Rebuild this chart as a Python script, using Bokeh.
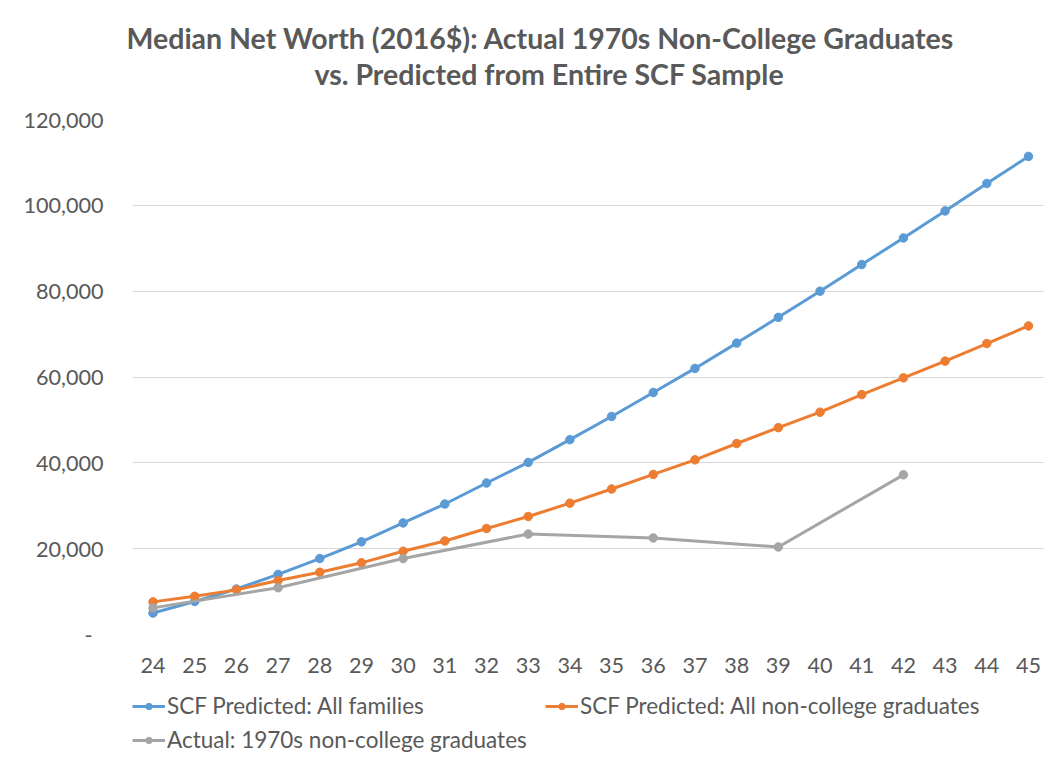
from bokeh.plotting import figure
from bokeh.layouts import column
from bokeh.models import (FixedTicker, NumeralTickFormatter, Title, Legend, LegendItem,
                          ColumnDataSource)
from bokeh.embed import file_html
from bokeh.resources import INLINE

# ---- data ----
ages = [24, 25, 26, 27, 28, 29, 30, 31, 32, 33, 34, 35, 36, 37, 38, 39, 40, 41, 42, 43, 44, 45]
all_families = [5000, 7700, 10600, 14000, 17700, 21600, 26000, 30400, 35300, 40100, 45400,
                50800, 56400, 62000, 67900, 73900, 80000, 86200, 92400, 98700, 105100, 111400]
all_noncollege = [7600, 8900, 10400, 12600, 14500, 16700, 19400, 21800, 24700, 27500, 30600,
                  33900, 37300, 40700, 44500, 48200, 51800, 55900, 59800, 63700, 67800, 71900]
actual_ages = [24, 27, 30, 33, 36, 39, 42]
actual_1970s = [6200, 10900, 17700, 23400, 22500, 20400, 37200]
y_ticks = [0, 20000, 40000, 60000, 80000, 100000, 120000]

title_1 = "Median Net Worth (2016$): Actual 1970s Non-College Graduates"
title_2 = "vs. Predicted from Entire SCF Sample"
names = ["SCF Predicted: All families", "SCF Predicted: All non-college graduates",
         "Actual: 1970s non-college graduates"]
colors = ["#5B9BD5", "#ED7D31", "#A5A5A5"]

FONT = "Lato"
TXT = "#595959"

p = figure(width=1044, height=678, output_backend="svg", toolbar_location=None, title=None,
           x_range=(23.508, 45.384), y_range=(0, 120000),
           min_border_left=132, min_border_right=0, min_border_top=119, min_border_bottom=44)
p.outline_line_color = None
p.background_fill_color = "white"
p.border_fill_color = "white"

p.xgrid.grid_line_color = None
p.ygrid.grid_line_color = "#D9D9D9"
p.ygrid.grid_line_width = 1
p.ygrid.ticker = FixedTicker(ticks=y_ticks)

# axes
p.yaxis.ticker = FixedTicker(ticks=y_ticks)
p.yaxis.formatter = NumeralTickFormatter(format="0,0")
p.yaxis.major_label_overrides = {0: "-\u00a0\u00a0"}
p.yaxis.axis_line_color = None
p.yaxis.major_tick_line_color = None
p.yaxis.minor_tick_line_color = None
p.yaxis.major_label_standoff = 23
p.yaxis.major_label_text_font = FONT
p.yaxis.major_label_text_font_size = "21.6px"
p.yaxis.major_label_text_color = TXT

p.xaxis.ticker = FixedTicker(ticks=ages)
p.xaxis.axis_line_color = None
p.xaxis.major_tick_line_color = None
p.xaxis.minor_tick_line_color = None
p.xaxis.major_label_standoff = 17
p.xaxis.major_label_text_font = FONT
p.xaxis.major_label_text_font_size = "21.6px"
p.xaxis.major_label_text_color = TXT

# series
sources = [ColumnDataSource(dict(x=ages, y=all_families)),
           ColumnDataSource(dict(x=ages, y=all_noncollege)),
           ColumnDataSource(dict(x=actual_ages, y=actual_1970s))]
for src, col in zip(sources, colors):
    p.line("x", "y", source=src, line_color=col, line_width=3)
    p.scatter("x", "y", source=src, size=8.5, fill_color=col, line_color=col)

# title (first added sits nearest the frame): spacer, line 2, line 1
p.add_layout(Title(text=" ", text_font_size="1px", standoff=26), "above")
p.add_layout(Title(text=title_2, align="left", offset=182, text_font=FONT,
                   text_font_style="bold", text_font_size="28.5px", text_color=TXT,
                   standoff=0), "above")
p.add_layout(Title(text=title_1, align="left", offset=-6, text_font=FONT,
                   text_font_style="bold", text_font_size="28.5px", text_color=TXT,
                   standoff=0), "above")

# ---- legend strip (below the chart); same series, outside this strip's ranges ----
lg = figure(width=1044, height=78, output_backend="svg", toolbar_location=None, title=None,
            x_axis_type=None, y_axis_type=None, x_range=(0, 1), y_range=(-2, -1),
            min_border_left=0, min_border_right=0, min_border_top=0, min_border_bottom=0)
lg.outline_line_color = None
lg.background_fill_color = "white"
lg.border_fill_color = "white"

items = []
for src, col, name in zip(sources, colors, names):
    l = lg.line("x", "y", source=src, line_color=col, line_width=3)
    s = lg.scatter("x", "y", source=src, size=8.5, fill_color=col, line_color=col)
    items.append(LegendItem(label=name, renderers=[l, s]))

common = dict(orientation="horizontal", padding=0, margin=0, border_line_alpha=0,
              background_fill_alpha=0, glyph_width=33, glyph_height=16, label_height=26,
              spacing=5, label_standoff=2, label_width=373,
              label_text_font=FONT, label_text_font_size="22.5px", label_text_color=TXT)
lg.add_layout(Legend(items=items[:2], location=(0, 37), **common), "center")
lg.add_layout(Legend(items=items[2:], location=(0, 3), **common), "center")

open("out.html", "w").write(file_html(column(p, lg, spacing=0), INLINE))
